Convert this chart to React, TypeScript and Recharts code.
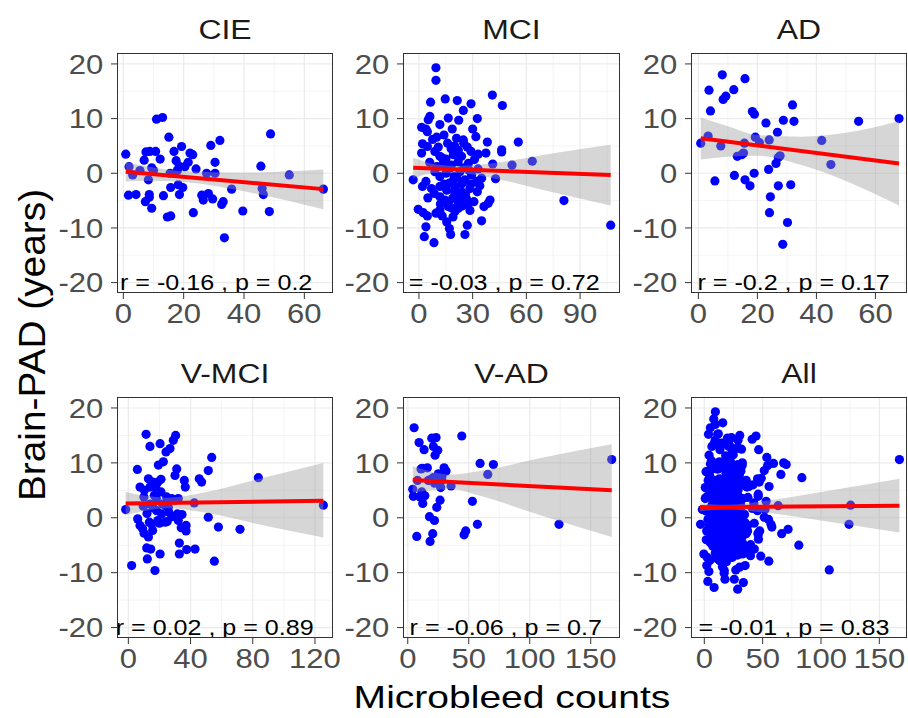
import React from 'react'
import { ComposedChart, Scatter, Line, Area, XAxis, YAxis, CartesianGrid } from 'recharts'

const FONT = '"Liberation Sans", Arial, Helvetica, sans-serif'

// ---- data ----
const cieX = [0.8, 1.9, 1.7, 3.1, 4.2, 5.5, 6.9, 7.5, 7.3, 8.3, 8.6, 8.8, 9.4, 9.4, 8.6, 10.0, 10.7, 11.0, 12.2, 13.0, 13.3, 14.6, 15.7, 15.1, 15.5, 15.7, 16.8, 17.5, 17.9, 18.5, 18.2, 18.6, 19.3, 19.7, 20.4, 21.5, 22.1, 23.0, 23.2, 24.1, 26.0, 26.5, 27.6, 28.2, 29.0, 29.6, 30.4, 30.4, 32.0, 32.6, 33.1, 33.5, 35.9, 39.6, 45.6, 46.0, 46.4, 48.4, 48.8, 55.0, 66.3]
const cieY = [3.5, 1.2, -4.0, -0.3, -3.9, 0.5, 2.4, 3.9, -5.2, -1.2, -3.9, 4.0, -6.4, 1.0, -4.4, 0.5, 4.0, 9.9, 2.6, 10.2, -4.1, -8.0, -7.8, 6.6, 0.0, -2.6, 4.0, 2.3, 0.5, 1.3, -2.1, -3.9, 4.9, -2.6, 1.2, 2.0, 3.7, 3.4, -7.2, 0.8, -4.0, -4.9, 0.0, -3.7, 5.1, -4.7, 2.0, 0.0, 6.0, -5.7, -5.2, -11.8, -2.9, -6.9, 1.3, -2.8, -3.9, -7.0, 7.2, -0.3, -2.9]

const mciX = [9.5, 9.5, 6.5, 14.7, 21.4, 24.8, 29.1, 41.0, 46.6, 6.1, 5.2, 11.7, 16.4, 22.2, 32.6, 1.5, 3.9, 4.7, 18.6, 30.0, 9.9, 7.6, 2.0, 4.7, 10.8, 21.0, 24.8, 31.8, 38.2, 55.5, 1.5, 8.9, 11.7, 15.1, 19.2, 23.8, 29.1, 33.1, 37.4, 46.2, 46.2, 13.6, 18.2, 21.9, 27.6, 41.2, 52.0, 63.3, -3.2, 2.0, 3.9, 8.9, 11.7, 15.1, 17.3, 19.6, 22.9, 25.7, 29.4, 32.2, 35.0, 42.8, 11.7, 15.5, 20.1, 23.8, 28.5, 32.6, 8.6, 11.7, 14.5, 18.8, 22.5, 26.6, 30.7, 39.7, 38.7, 81.0, -0.4, 2.4, 4.7, 9.5, 11.7, 16.4, 20.1, 22.0, 28.5, 36.3, 35.0, 3.9, 15.5, 17.0, 27.0, 17.7, 3.0, 8.4, 25.7, 107.1, 14, 16, 18, 20, 22, 25, 27, 13, 17, 19, 21, 24, 26, 14, 16, 18, 20, 22, 24, 27, 12, 13, 19, 23, 25, 28, 29, 31, 33, 34, 10, 6, 7, 5]
const mciY = [19.3, 17.0, 13.0, 13.6, 13.3, 11.5, 12.7, 14.3, 12.4, 10.4, 9.8, 8.9, 10.1, 9.7, 10.0, 8.4, 8.1, 7.6, 8.1, 8.1, 6.6, 6.2, 5.4, 4.9, 4.8, 6.4, 6.1, 6.7, 5.7, 5.7, 3.7, 4.0, 3.1, 2.6, 3.4, 3.1, 4.0, 3.5, 3.7, 4.3, 3.9, 1.8, 1.5, 2.1, 1.8, 1.7, 1.5, 2.2, -1.2, -2.4, -1.5, 0.3, -0.6, 0.0, 0.9, -0.6, 0.3, -1.2, -0.3, -1.5, -0.9, -1.0, -2.4, -3.1, -2.4, -3.4, -2.8, -3.4, -3.7, -4.3, -4.9, -4.6, -4.9, -4.7, -5.2, -4.9, -5.5, -5.0, -6.6, -7.2, -7.8, -7.3, -6.7, -6.1, -7.0, -6.4, -6.8, -6.1, -8.7, -9.8, -8.9, -10.1, -9.5, -11.2, -11.6, -12.7, -11.2, -9.5, 7, 5.5, 4.5, 5, 4.2, 5.5, 4.8, 2.8, -1.8, -1.5, -0.8, -1.9, -3.8, -2.0, -5.5, -6.3, -3.5, -5.6, -6.0, -5.8, -5.6, -7.8, -8.0, -4.0, 1.0, 0.5, -2.0, 2.5, 0.8, -2.3, 1.2, 2.0, -2.8, -4.5]

const adX = [0.8, 3.3, 3.6, 4.1, 5.6, 7.6, 8.1, 8.4, 9.3, 12.0, 12.2, 13.2, 14.7, 15.3, 15.6, 15.8, 15.8, 17.5, 18.3, 19.0, 18.9, 19.3, 20.7, 22.9, 23.8, 24.0, 24.4, 24.1, 26.3, 26.8, 27.1, 27.7, 27.1, 28.6, 28.8, 30.2, 31.3, 31.9, 32.4, 41.8, 44.9, 54.3, 68.0]
const adY = [5.5, 6.8, 15.2, 11.4, -1.4, 5.0, 18.0, 13.5, 14.1, 15.3, -0.4, 3.1, 3.4, 3.7, 5.5, 17.3, -1.2, -2.3, 11.3, 10.8, 0.0, 6.6, 5.6, 9.2, 0.7, 6.1, -4.3, -7.2, 1.8, 7.5, 2.9, 3.2, -2.3, -13.0, 9.7, -9.0, -2.1, 12.5, 9.5, 6.0, 1.6, 9.5, 10.0]

const vmciX = [-1.7, 2.1, 5.8, 7.5, 6.0, 7.5, 9.2, 9.6, 10.1, 10.3, 11.4, 12.2, 11.8, 12.9, 12.9, 13.9, 13.9, 13.5, 14.4, 15.6, 15.6, 16.7, 17.1, 17.6, 18.2, 18.9, 19.3, 20.4, 20.4, 21.0, 21.4, 22.5, 23.6, 24.2, 24.6, 25.7, 26.8, 27.9, 28.9, 30.0, 30.4, 31.1, 31.5, 32.1, 32.1, 32.8, 32.8, 34.5, 36.0, 36.6, 37.1, 37.1, 37.5, 42.4, 42.9, 45.6, 47.1, 51.4, 51.4, 53.6, 55.3, 57.9, 71.8, 83.6, 125.4, 10, 14, 16, 18, 20, 22, 25, 26, 28, 12, 15, 19, 21, 24, 30, 34]
const vmciY = [1.5, -8.7, 8.8, 5.6, -0.2, -1.4, -2.0, 2.1, -2.8, 5.0, 15.2, -7.5, -5.5, 7.1, -3.5, 13.0, 5.6, -0.8, -5.7, 6.5, -2.3, 4.1, -9.6, 5.6, 1.3, -0.5, 9.6, 13.5, -6.6, 4.7, 0.7, 10.2, -0.8, 12.0, 3.8, 1.9, 12.6, 3.5, 14.1, 7.7, 15.0, 8.9, 0.7, -0.5, 3.5, -4.6, -6.6, 0.6, 6.8, 5.6, -1.4, -2.4, -5.8, 2.7, -5.7, 7.1, 6.5, 0.1, 8.6, 11.0, -7.9, -1.7, -2.1, 7.3, 2.3, 3.8, 2.5, 1.8, 3.5, -1.0, 2.5, -0.7, 1.0, 0.2, 0.8, -1.2, 6.5, 7.0, 2.2, 3.2, -1.8]

const vadX = [5.2, 4.1, 4.6, 7.4, 9.3, 10.1, 10.9, 11.5, 12.3, 13.4, 16.1, 16.9, 17.8, 18.3, 19.7, 20.5, 21.0, 21.0, 21.9, 22.4, 23.2, 23.8, 24.6, 25.1, 26.5, 27.0, 27.9, 29.8, 31.4, 35.5, 44.3, 46.2, 47.5, 53.0, 57.1, 59.3, 65.6, 70.2, 124.0, 167.2, 8, 14, 19, 25, 12, 22, 28]
const vadY = [16.4, 5.2, 3.9, -3.4, 13.7, 3.8, 8.9, 4.7, 2.6, 12.4, 9.1, 6.8, 0.2, -4.3, 14.5, -2.9, 7.3, 13.0, -0.5, 11.4, 14.6, 1.9, 12.3, 6.8, 3.2, 5.5, 6.9, 9.1, 8.5, 5.8, 14.9, -3.1, -2.4, 3.0, -1.2, 9.9, 7.9, 9.7, -1.2, 10.6, 6.8, 4.0, 7.0, 8.0, 9.0, 6.3, 7.5]

// "All" pools every group
const allX = [...cieX, ...mciX, ...adX, ...vmciX, ...vadX]
const allY = [...cieY, ...mciY, ...adY, ...vmciY, ...vadY]

// fitted line ends and 95% band
const cieFitX = [0.8, 66.3], cieFitY = [0.3, -2.9]
const cieBandX = [0.8, 10, 20, 40, 55, 66.3]
const cieBandLo = [-1.5, -1.35, -1.6, -3.3, -5.05, -6.6]
const cieBandHi = [2.0, 1.05, 0.35, 0.1, 0.35, 0.7]

const mciFitX = [-3.2, 107.1], mciFitY = [1.0, -0.3]
const mciBandX = [-3.2, 10, 20, 40, 70, 107.1]
const mciBandLo = [-0.9, 0.1, 0.1, -0.8, -3.1, -5.9]
const mciBandHi = [2.85, 1.6, 1.35, 1.8, 3.4, 5.2]

const adFitX = [0.8, 68.0], adFitY = [6.4, 1.8]
const adBandX = [0.8, 10, 20, 35, 50, 68.0]
const adBandLo = [2.5, 3.0, 3.2, 1.5, -1.4, -5.9]
const adBandHi = [10.2, 8.6, 7.0, 6.7, 7.4, 9.5]

const vmciFitX = [-1.7, 125.4], vmciFitY = [2.6, 3.1]
const vmciBandX = [-1.7, 10, 25, 50, 85, 125.4]
const vmciBandLo = [0.5, 1.25, 1.75, 0.9, -1.25, -3.6]
const vmciBandHi = [4.7, 4.05, 3.65, 4.7, 7.15, 10.0]

const vadFitX = [4.1, 167.2], vadFitY = [6.9, 5.0]
const vadBandX = [4.1, 20, 35, 60, 110, 167.2]
const vadBandLo = [4.6, 5.0, 5.25, 3.95, 0.35, -3.5]
const vadBandHi = [9.4, 8.4, 7.85, 8.55, 10.95, 13.4]

const allFitX = [-3.7, 167.2], allFitY = [1.9, 2.2]
const allBandX = [-3.7, 20, 50, 100, 167.2]
const allBandLo = [1.2, 1.52, 1.0, -0.5, -2.7]
const allBandHi = [2.6, 2.36, 3.0, 4.7, 7.1]

const titles = ['CIE', 'MCI', 'AD', 'V-MCI', 'V-AD', 'All']
const notes = ['r = -0.16 , p = 0.2', 'r = -0.03 , p = 0.72', 'r = -0.2 , p = 0.17', 'r = 0.02 , p = 0.89', 'r = -0.06 , p = 0.7', 'r = -0.01 , p = 0.83']
const noteX = [-1.1, -14.2, -0.3, -8.1, 1.5, -18.1]

const xTicks = [[0, 20, 40, 60], [0, 30, 60, 90], [0, 20, 40, 60], [0, 40, 80, 120], [0, 50, 100, 150], [0, 50, 100, 150]]
const xMinor = [[10, 30, 50], [15, 45, 75, 105], [10, 30, 50, 70], [20, 60, 100], [25, 75, 125], [25, 75, 125]]
const xDomains = [[-2.1, 69.5], [-8.9, 112.3], [-2.5, 70.7], [-7.3, 131.6], [-3.9, 174], [-11.4, 173.7]]
const yTicks = [-20, -10, 0, 10, 20]
const yMinor = [-15, -5, 5, 15]
const Y_DOMAIN = [-21.9, 22]

// ---- layout ----
const COL_LEFT = [117, 403, 691]
const COL_W = [216, 217, 216]
const ROW_TOP = [53, 397]
const ROW_H = [240, 241]
const PAD_R = 32

const groups = [
  { xs: cieX, ys: cieY, fx: cieFitX, fy: cieFitY, bx: cieBandX, lo: cieBandLo, hi: cieBandHi },
  { xs: mciX, ys: mciY, fx: mciFitX, fy: mciFitY, bx: mciBandX, lo: mciBandLo, hi: mciBandHi },
  { xs: adX, ys: adY, fx: adFitX, fy: adFitY, bx: adBandX, lo: adBandLo, hi: adBandHi },
  { xs: vmciX, ys: vmciY, fx: vmciFitX, fy: vmciFitY, bx: vmciBandX, lo: vmciBandLo, hi: vmciBandHi },
  { xs: vadX, ys: vadY, fx: vadFitX, fy: vadFitY, bx: vadBandX, lo: vadBandLo, hi: vadBandHi },
  { xs: allX, ys: allY, fx: allFitX, fy: allFitY, bx: allBandX, lo: allBandLo, hi: allBandHi },
]

const panels = groups.map((g, i) => ({
  ...g,
  title: titles[i],
  note: notes[i],
  noteX: noteX[i],
  ticks: xTicks[i],
  minor: xMinor[i],
  domain: xDomains[i],
  left: COL_LEFT[i % 3],
  w: COL_W[i % 3],
  top: ROW_TOP[Math.floor(i / 3)],
  h: ROW_H[Math.floor(i / 3)],
}))

function XTick(props: any) {
  const { x, y, payload } = props
  return (
    <text transform={`translate(${x},${y + 23.5}) scale(1.15,1)`} textAnchor="middle"
      fontSize={27} fontFamily={FONT} fill="#4D4D4D">{payload.value}</text>
  )
}

function YTick(props: any) {
  const { x, y, payload } = props
  return (
    <text transform={`translate(${x},${y + 9.7}) scale(1.15,1)`} textAnchor="end"
      fontSize={27} fontFamily={FONT} fill="#4D4D4D">{payload.value}</text>
  )
}

function Dot(props: any) {
  return <circle cx={props.cx} cy={props.cy} r={4.6} fill="#0000FF" />
}

function Panel({ p }: { p: any }) {
  const W = 60 + p.w + PAD_R
  const H = 5 + p.h + 40
  const pts = p.xs.map((x: number, i: number) => ({ x, y: p.ys[i] }))
  const fit = p.fx.map((x: number, i: number) => ({ x, y: p.fy[i] }))
  const band = p.bx.map((x: number, i: number) => ({ x, band: [p.lo[i], p.hi[i]] }))
  return (
    <div style={{ position: 'absolute', left: p.left - 60, top: p.top - 5 }}>
      <ComposedChart width={W} height={H} margin={{ top: 5, right: PAD_R, bottom: 0, left: 0 }}>
        <CartesianGrid horizontalValues={yMinor} verticalValues={p.minor} stroke="#EDEDED" strokeWidth={0.6} />
        <CartesianGrid horizontalValues={yTicks} verticalValues={p.ticks} stroke="#EBEBEB" strokeWidth={1.2} />
        <XAxis type="number" dataKey="x" domain={p.domain} allowDataOverflow ticks={p.ticks} interval={0}
          height={40} tickSize={6} tickMargin={0} axisLine={false} tickLine={{ stroke: '#333333' }} tick={XTick} />
        <YAxis type="number" dataKey="y" domain={Y_DOMAIN} allowDataOverflow ticks={yTicks} interval={0}
          width={60} tickSize={6} tickMargin={7.7} axisLine={false} tickLine={{ stroke: '#333333' }} tick={YTick} />
        <Scatter data={pts} dataKey="y" shape={Dot} isAnimationActive={false} zIndex={100} />
        <Area data={band} dataKey="band" type="monotone" stroke="none" fill="#999999" fillOpacity={0.4}
          isAnimationActive={false} dot={false} activeDot={false} zIndex={200} />
        <Line data={fit} dataKey="y" type="linear" stroke="#FF0000" strokeWidth={4} dot={false}
          activeDot={false} isAnimationActive={false} zIndex={300} />
      </ComposedChart>
    </div>
  )
}

export default function App() {
  return (
    <div style={{ position: 'absolute', left: 0, top: 0, width: 908, height: 718, overflow: 'hidden', background: '#fff' }}>
      {panels.map((p, i) => <Panel key={i} p={p} />)}
      <svg width={908} height={718} style={{ position: 'absolute', left: 0, top: 0, pointerEvents: 'none' }}>
        <defs>
          {panels.map((p, i) => (
            <clipPath id={`pclip${i}`} key={i}>
              <rect x={p.left} y={p.top} width={p.w} height={p.h} />
            </clipPath>
          ))}
        </defs>
        {panels.map((p, i) => {
          const nx = p.left + ((p.noteX - p.domain[0]) / (p.domain[1] - p.domain[0])) * p.w
          const ny = p.top + ((Y_DOMAIN[1] - -20) / (Y_DOMAIN[1] - Y_DOMAIN[0])) * p.h + 7
          return (
            <g key={i}>
              <g clipPath={`url(#pclip${i})`}>
                <text transform={`translate(${nx},${ny}) scale(1.14,1)`} fontSize={22} fontFamily={FONT} fill="#000">{p.note}</text>
              </g>
              <rect x={p.left + 0.5} y={p.top + 0.5} width={p.w - 1} height={p.h - 1} fill="none" stroke="#333333" strokeWidth={1} />
              <text transform={`translate(${p.left + p.w / 2},${p.top - 14.5}) scale(1.14,1)`} textAnchor="middle"
                fontSize={28} fontFamily={FONT} fill="#1A1A1A">{p.title}</text>
            </g>
          )
        })}
        <text transform="translate(512,708) scale(1.22,1)" textAnchor="middle" fontSize={32} fontFamily={FONT} fill="#000">Microbleed counts</text>
        <text transform="translate(45,345) rotate(-90) scale(1.05,1)" textAnchor="middle" fontSize={37} fontFamily={FONT} fill="#000">Brain-PAD (years)</text>
      </svg>
    </div>
  )
}
